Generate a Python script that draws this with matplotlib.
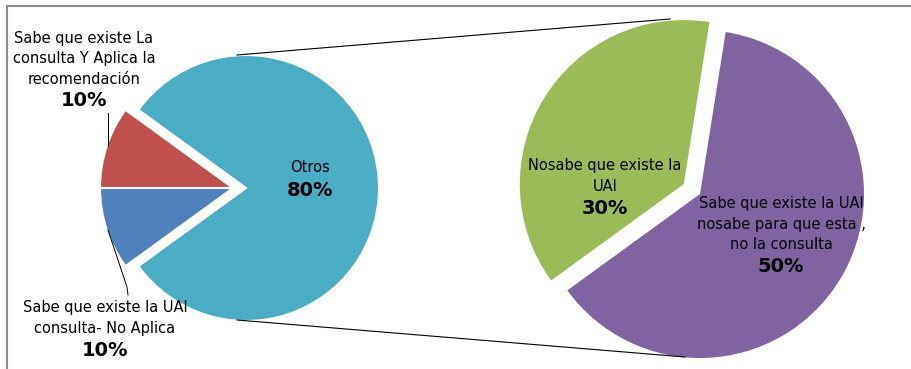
import matplotlib
matplotlib.use("Agg")
import matplotlib.pyplot as plt

W, H = 912, 369

# left pie: Otros + the two small slices
left_labels = ["Otros", "Sabe que existe La\nconsulta Y Aplica la\nrecomendación",
               "Sabe que existe la UAI\nconsulta- No Aplica"]
left_values = [80, 10, 10]
left_colors = ["#4BACC6", "#C0504D", "#4F81BD"]

# right pie: breakdown of Otros
right_labels = ["Nosabe que existe la\nUAI", "Sabe que existe la UAI\nnosabe para que esta ,\nno la consulta"]
right_values = [30, 50]
right_colors = ["#9BBB59", "#8064A2"]


def Y(py):
    return H - py


fig = plt.figure(figsize=(W / 100, H / 100), dpi=100)
ax = fig.add_axes([0, 0, 1, 1])

# explode offsets are in data units (pixels here)
ax.pie(left_values, colors=left_colors, center=(233, Y(188)), radius=133,
       startangle=-144, counterclock=True, explode=[13, 0, 0],
       wedgeprops=dict(edgecolor="white", linewidth=1.5))
ax.pie(right_values, colors=right_colors, center=(700, Y(194)), radius=164,
       startangle=81, counterclock=True, explode=[19, 0],
       wedgeprops=dict(edgecolor="none"))

ax.set_xlim(0, W)
ax.set_ylim(0, H)
ax.set_aspect("auto")
ax.axis("off")

# connector lines between the pies
ax.plot([237, 670], [Y(55), Y(19)], color="black", lw=0.8)
ax.plot([237, 685], [Y(320), Y(357)], color="black", lw=0.8)

# leader lines for the small slices
ax.plot([108, 108], [Y(113), Y(146)], color="black", lw=0.7)
ax.plot([108, 127, 128], [Y(230), Y(287), Y(295)], color="black", lw=0.7)

fs = 10.5
txt = dict(ha="center", va="center", fontsize=fs, linespacing=1.42, color="black")
pct = dict(ha="center", va="center", fontsize=14, fontweight="bold", color="black")

ax.text(84, Y(59), left_labels[1], **txt)
ax.text(84, Y(101), f"{left_values[1]}%", **pct)
ax.text(105, Y(318), left_labels[2], **txt)
ax.text(105, Y(351), f"{left_values[2]}%", **pct)
ax.text(310, Y(168), left_labels[0], **txt)
ax.text(310, Y(190), f"{left_values[0]}%", **pct)

ax.text(605, Y(176), right_labels[0], **txt)
ax.text(605, Y(208), f"{right_values[0]}%", **pct)
ax.text(781, Y(224), right_labels[1], **txt)
ax.text(781, Y(266), f"{right_values[1]}%", **pct)

# frame edges
ax.plot([7, W], [Y(6), Y(6)], color="#8C8C8C", lw=1.5)
ax.plot([7, 7], [Y(6), 0], color="#8C8C8C", lw=1.5)

fig.savefig("out.png", dpi=100)
